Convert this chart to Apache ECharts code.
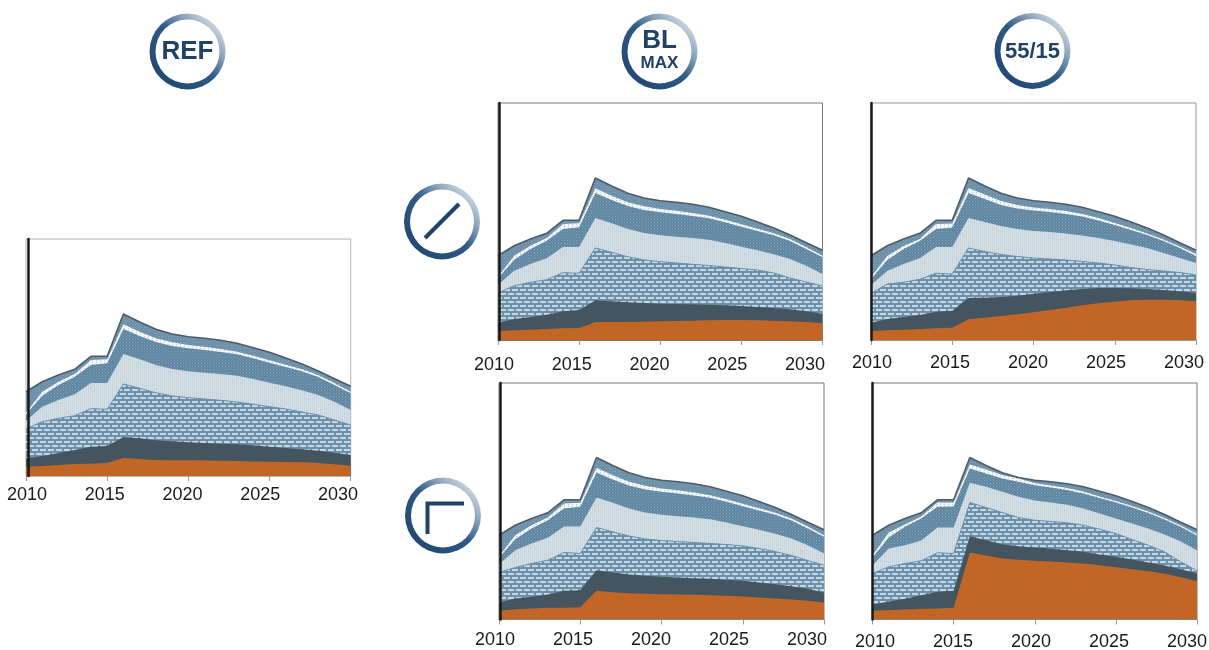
<!DOCTYPE html>
<html><head><meta charset="utf-8">
<style>html,body{margin:0;padding:0;background:#fff}#c{width:1209px;height:650px}</style>
<script src="https://cdn.jsdelivr.net/npm/echarts@6/dist/echarts.min.js"></script>
</head><body><div id="c"></div>
<script>
const years = [2010,2011,2012,2013,2014,2015,2016,2017,2018,2019,2020,2021,2022,2023,2024,2025,2026,2027,2028,2029,2030].map(String);

// Upper edge of each stacked layer (same unit in all panels).
const total = [84.3,94.3,101,106.7,119.7,119.7,162,154,146.7,142,139.3,137.7,135.7,132.7,128.3,123.7,118,112,105,97.3,89.7];

const refWhite = [63.3,84.3,94.3,102,116,116.7,151.7,144.3,137.7,133.7,131,129.3,127,124.3,120.3,115.7,111.3,106.7,101,93,84.3];
const refMid = [61.7,80.3,91,99.3,111,112.7,147,140,134,130,127.7,126,124,121.7,117.7,113.3,109,104.7,99,91,82.7];
const refLight = [55.3,69.3,76,81.7,93,93,122,116.7,111,107,104.7,103.3,102,100.3,97,93.3,89.7,85.7,81,74.3,66];
const refBrick = [47,54.3,57.7,60.3,67.3,66.7,92,87.7,83.3,80,78.3,77,75.7,74,71.7,69.3,67,64,61,56,51];
const refDark = [17.7,20,23,26,29.3,30,39,37.7,35.7,34.7,33.7,33,32.3,31.7,30.7,29.3,28,26.7,25.3,23.3,21];
const refOrange = [9.3,10,11,12,12.3,13,18,17,16,15.8,15.7,15.4,15.2,15,14.6,14.3,14,13.7,13,11.7,10.3];

const blTopBrick = [47,54.3,57.7,60.3,67.3,66.7,92,87.7,83.3,80,78.3,77,75.7,74.5,73,71.5,70,67,62,58,54];
const blTopDark = [17.3,21,23,25.3,28.7,30,39.7,38.7,37.7,37,36.3,36,35.7,35.3,34.7,34,33,32,30.7,28.7,26.3];
const blTopOrange = [8.7,9.7,10.3,11,11.7,12,18,18,18,18.3,18.7,19,19.3,19.7,20,20,19.7,19.3,18.7,18,16.7];

const fiveTopWhite = [63,84,94,101,116,116.5,152,145.5,139,135,132.5,131,129,126,122,117,112,106.5,100.5,93.5,86];
const fiveTopMid = [61,80,91,99,111,112.5,147,141,135,131.5,129.5,128,126,123.5,119.5,115,110,105,99,92,84];
const fiveTopLight = [55,69,76,81.7,93,93,122,118,114,111,109,108,106.5,104.5,102,99,95.5,92,87,82,77];
const fiveTopBrick = [46.7,56,57.7,60.7,66.7,66,92,88.5,85.5,83.5,82,81,80,78.5,77,75,72.5,70.5,69,67.5,65];
const fiveTopDark = [17.3,21,23,25,28.3,29.3,42,42.3,43,44.3,46.3,48,49.7,51,52,52,51.7,51,50,48.7,47];
const fiveTopOrange = [8.7,9.7,10.3,11,11.7,12.3,20.7,22.3,24,25.7,27.7,30,32.3,34.7,36.7,38.3,39.7,40.3,40.3,39.7,38.7];

const blBotBrick = [47,52,56,59.3,67,66,92,87.7,83.5,80.5,79,78,77,76,75,73.5,71,68,64,59,54.3];
const blBotDark = [17,21,22.7,25,28.7,29.3,49.3,47,45,43.7,42.7,42,41.3,40.7,39.7,38.7,37,35.3,33.3,30.7,27];
const blBotOrange = [8.7,10.3,11,11.7,11.7,12.3,28.7,27.3,26.3,25.7,25.3,25,24.7,24.3,23.7,23,22,21,20,18.7,17];

const fiveBotWhite = [64,87,95,103,117,117,155,150,144.5,141,136.5,134,131.5,128,123,118.5,113.5,108,101.5,94,85.5];
const fiveBotMid = [62,82,92.7,101,112.7,113,151,146,141,137.7,134.3,132,129.5,126,121.5,117,112,106.5,100,92.5,84];
const fiveBotLight = [54,71,74.3,79,92,92,136.7,132.7,127.7,122.7,119,117,114.7,111,106,101,96,91,85,78,69.3];
const fiveBotBrick = [46,52.7,56,58.7,66.7,66,117,112,107,102,99.3,98,96.7,94.3,90.3,86,80,74.3,67.7,57.7,48.7];
const fiveBotDark = [15,18,20.7,24.3,27.7,28.7,83.3,79.3,75.3,73.3,72,70.7,69.3,67.7,65,62.7,60,57,54,50.3,46.3];
const fiveBotOrange = [8.7,9.3,10,10.7,11,11.7,67,64,61,59.7,58.7,58,57,56,54.3,52.3,50.3,48.3,45.7,42.3,38.3];

const panels = [
  {left:26, right:350.7, top:239, bottom:476, border:'#b4b4b4', offset:-2, labelLeft:27, labelRight:338, labelY:495, layers:[total,refWhite,refMid,refLight,refBrick,refDark,refOrange]},
  {left:498, right:822.5, top:103, bottom:340, border:'#777', offset:-1, labelLeft:494, labelRight:805, labelY:365, layers:[total,refWhite,refMid,refLight,blTopBrick,blTopDark,blTopOrange]},
  {left:871, right:1196, top:103, bottom:340, border:'#999', offset:0, labelLeft:872, labelRight:1184, labelY:363, layers:[total,fiveTopWhite,fiveTopMid,fiveTopLight,fiveTopBrick,fiveTopDark,fiveTopOrange]},
  {left:499, right:824, top:383, bottom:619.5, border:'#777', offset:-1, labelLeft:495, labelRight:807, labelY:640, layers:[total,refWhite,refMid,refLight,blBotBrick,blBotDark,blBotOrange]},
  {left:872.5, right:1197, top:383, bottom:619.5, border:'#777', offset:0, labelLeft:875, labelRight:1187, labelY:642.5, layers:[total,fiveBotWhite,fiveBotMid,fiveBotLight,fiveBotBrick,fiveBotDark,fiveBotOrange]}
];

function tile(w,h,bg,draw){
  const c=document.createElement('canvas');c.width=w;c.height=h;
  const g=c.getContext('2d');g.fillStyle=bg;g.fillRect(0,0,w,h);draw(g);return {image:c,repeat:'repeat'};
}
const dotted=(bg,fg)=>tile(3,3,bg,g=>{g.fillStyle=fg;g.fillRect(0,0,1,1);g.fillRect(1.5,1.5,1,1);});
const fills=[
  dotted('#688da6','#8aa8bc'),
  tile(4,2,'#f4f7f9',g=>{g.fillStyle='#bac8d2';g.fillRect(0,0,1,1);}),
  dotted('#5e85a1','#84a3b9'),
  tile(2,2,'#d5e0e7',g=>{g.fillStyle='#c8d4dd';g.fillRect(0,0,1,2);}),
  tile(8,8,'#6a90ab',g=>{g.fillStyle='#c7d7e2';g.fillRect(0,1,6,2);g.fillRect(4,5,4,2);g.fillRect(0,5,2,2);}),
  '#45555f',
  '#c26626'
];
const edges=[{color:'#4d5c68',width:1.6},{width:0},{width:0},{width:0},{color:'#6a90ab',width:1},{width:0},{width:0}];

const W=1209,H=650;
const grid=[],xAxis=[],yAxis=[],series=[];
const font='"Liberation Sans",Arial,sans-serif';
panels.forEach((p,i)=>{
  // plot grid: marks, axis line and ticks
  grid.push({left:p.left,top:p.top,width:p.right-p.left,height:p.bottom-p.top,outerBoundsMode:'none',containLabel:false,show:true,borderColor:p.border,borderWidth:1,backgroundColor:'#fff'});
  xAxis.push({type:'category',gridIndex:i,data:years,boundaryGap:false,
    axisLine:{lineStyle:{color:p.border,width:1}},
    axisTick:{interval:4,length:5,lineStyle:{color:'#999'}},
    splitLine:{show:false},axisLabel:{show:false}});
  yAxis.push({type:'value',gridIndex:i,min:0,max:p.bottom-p.top,offset:p.offset,z:10,
    axisLine:{show:true,lineStyle:{color:'#1a1a1a',width:2.5}},axisTick:{show:false},axisLabel:{show:false},splitLine:{show:false}});
  p.layers.forEach((vals,k)=>{
    series.push({type:'line',xAxisIndex:i,yAxisIndex:i,data:vals,showSymbol:false,silent:true,z:2+k*0.01,
      lineStyle:edges[k],
      areaStyle:{color:fills[k],opacity:1},
      itemStyle:{color:'#4d5c68'}});
  });
});
// The year labels in the reference are spaced slightly tighter than the ticks, so they sit on their own axis.
panels.forEach((p,i)=>{
  const g=panels.length+i;
  grid.push({left:p.labelLeft,top:p.labelY-1,width:p.labelRight-p.labelLeft,height:1,outerBoundsMode:'none',containLabel:false,show:false});
  xAxis.push({type:'category',gridIndex:g,data:years,boundaryGap:false,
    axisLine:{show:false},axisTick:{show:false},splitLine:{show:false},
    axisLabel:{interval:4,margin:0,verticalAlign:'middle',fontSize:18,color:'#1a1a1a',fontFamily:font,showMinLabel:true,showMaxLabel:true,hideOverlap:false}});
  yAxis.push({type:'value',gridIndex:g,min:0,max:1,show:false});
});

const ringFill={type:'linear',x:0,y:1,x2:1,y2:0,colorStops:[{offset:0,color:'#1c426c'},{offset:0.5,color:'#2f5a85'},{offset:0.72,color:'#93abbf'},{offset:1,color:'#ffffff'}]};
const ink='#1f4268';
const ring=(cx,cy)=>({type:'ring',shape:{cx,cy,r:38,r0:32},style:{fill:ringFill},silent:true});
const label=(text,x,y,size)=>({type:'text',silent:true,style:{text,x,y,align:'center',verticalAlign:'middle',fill:ink,font:'bold '+size+'px '+font}});
const graphic=[
  ring(187.5,51.5),label('REF',187.5,52,26),
  ring(659.5,51.5),label('BL',659.5,41,26),label('MAX',659.5,63.5,17),
  ring(1032.5,51),label('55/15',1032.5,52,22),
  ring(442,221.5),
  {type:'line',shape:{x1:425,y1:238,x2:459,y2:204},style:{stroke:ink,lineWidth:4},silent:true},
  ring(443,515.5),
  {type:'polyline',shape:{points:[[427.5,534],[427.5,503.5],[464,503.5]]},style:{stroke:ink,lineWidth:4,fill:'none'},silent:true}
];

const chart=echarts.init(document.getElementById('c'),null,{renderer:'canvas',width:W,height:H});
chart.setOption({animation:false,backgroundColor:'#fff',tooltip:{show:false},grid,xAxis,yAxis,series,graphic});
</script></body></html>
